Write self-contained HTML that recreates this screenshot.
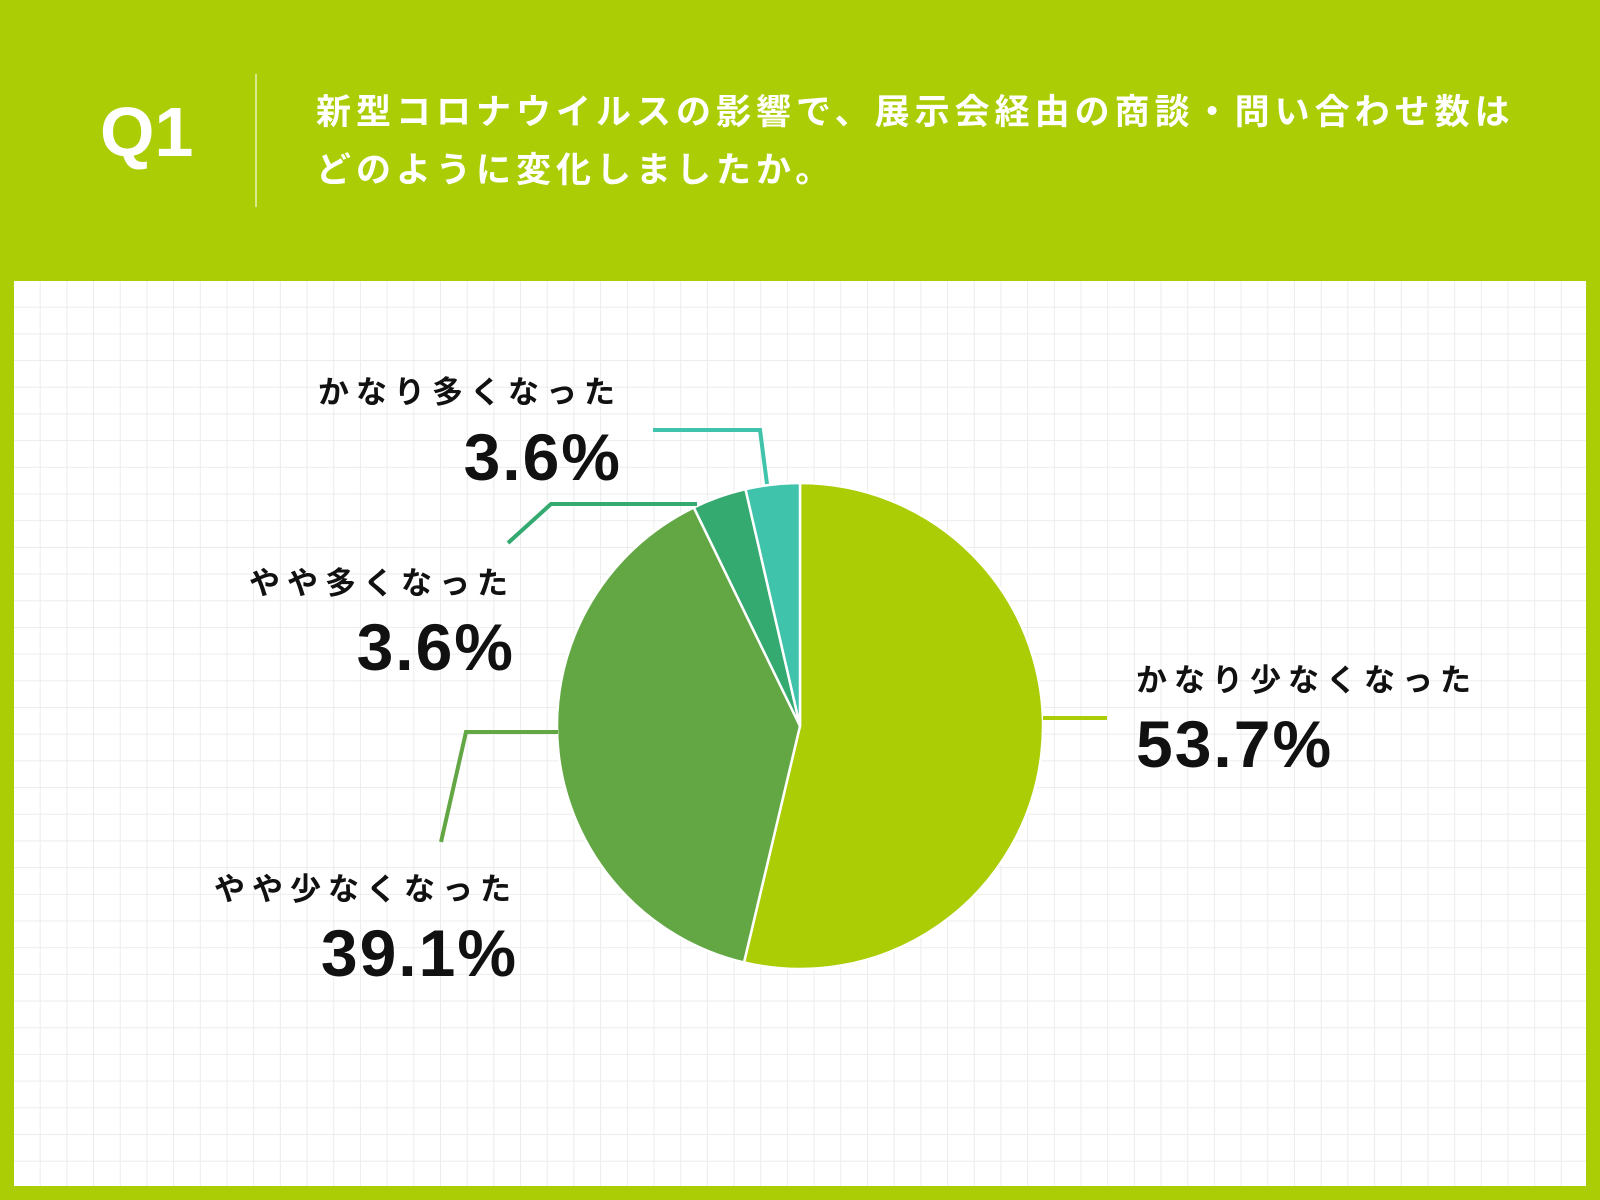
<!DOCTYPE html>
<html><head><meta charset="utf-8"><style>
html,body{margin:0;padding:0;}
body{width:1600px;height:1200px;background:#abcd06;position:relative;overflow:hidden;font-family:"Liberation Sans","Noto Sans CJK JP",sans-serif;}
#panel{position:absolute;left:14px;top:281px;width:1572px;height:905px;background:#fff;
background-image:linear-gradient(#ececec 1px,transparent 1px),linear-gradient(90deg,#ececec 1px,transparent 1px);
background-size:26.7px 26.7px;background-position:-1px -1px;}
.q{position:absolute;left:100px;top:92px;font-size:70px;font-weight:bold;color:#fff;}
.div{position:absolute;left:255px;top:74px;width:2px;height:133px;background:#d8e88a;}
.t{position:absolute;left:316px;font-size:35px;letter-spacing:5px;color:#fff;font-weight:bold;white-space:nowrap;}
</style></head><body>
<div class="q">Q1</div>
<div class="div"></div>
<div class="t" style="top:84px">新型コロナウイルスの影響で、展示会経由の商談・問い合わせ数は</div>
<div class="t" style="top:142px">どのように変化しましたか。</div>
<div id="panel"></div>
<svg id="chart" width="1600" height="1200" style="position:absolute;left:0;top:0"></svg>
<script>
const labels=["かなり少なくなった","やや少なくなった","やや多くなった","かなり多くなった"];
const values=[53.7,39.1,3.6,3.6];
const colors=["#abcd06","#63a744","#34a970","#3fc3aa"];
const cx=800,cy=726,r=243;
const svg=document.getElementById('chart');
const NS="http://www.w3.org/2000/svg";
const total=values.reduce((a,b)=>a+b,0);
function pt(a,rr){return [cx+rr*Math.sin(a),cy-rr*Math.cos(a)];}
let acc=0;
values.forEach((v,i)=>{
  const a0=acc/total*2*Math.PI;acc+=v;const a1=acc/total*2*Math.PI;
  const p0=pt(a0,r),p1=pt(a1,r);
  const p=document.createElementNS(NS,'path');
  p.setAttribute('d',`M${cx},${cy}L${p0[0]},${p0[1]}A${r},${r} 0 ${a1-a0>Math.PI?1:0} 1 ${p1[0]},${p1[1]}Z`);
  p.setAttribute('fill',colors[i]);p.setAttribute('stroke','#fff');p.setAttribute('stroke-width','2.5');
  
  
  svg.appendChild(p);
});
// leader lines
const leaders=[
 ["#abcd06","1043,718 1107,718"],
 ["#63a744","558,732 466,732 441,842"],
 ["#34a970","697,504 551,504 508,543"],
 ["#3fc3aa","767,484 760,430 653,430"]];
leaders.forEach((l,i)=>{
  const pl=document.createElementNS(NS,'polyline');
  pl.setAttribute('points',l[1]);pl.setAttribute('fill','none');pl.setAttribute('stroke',l[0]);pl.setAttribute('stroke-width','4');
  
  
  svg.appendChild(pl);
});
// label positions: [x, nameY, valueY, anchor]
const pos=[[1136,691,767,'start'],[518,900,976,'end'],[515,594,670,'end'],[622,403,480,'end']];
values.forEach((v,i)=>{
  const [x,y1,y2,an]=pos[i];
  const t1=document.createElementNS(NS,'text');
  t1.setAttribute('x',x);t1.setAttribute('y',y1);t1.setAttribute('text-anchor',an);
  t1.setAttribute('font-size','31');t1.setAttribute('font-weight','bold');t1.setAttribute('letter-spacing','7');
  t1.setAttribute('fill','#111');t1.setAttribute('font-family','"Liberation Sans","Noto Sans CJK JP",sans-serif');
  t1.textContent=labels[i];
  
  
  svg.appendChild(t1);
  const t2=document.createElementNS(NS,'text');
  t2.setAttribute('x',x);t2.setAttribute('y',y2);t2.setAttribute('text-anchor',an);
  t2.setAttribute('font-size','66');t2.setAttribute('font-weight','bold');t2.setAttribute('letter-spacing','2');
  t2.setAttribute('fill','#111');t2.setAttribute('font-family','"Liberation Sans",sans-serif');
  t2.textContent=v.toFixed(1)+'%';
  
  
  svg.appendChild(t2);
});
</script>
</body></html>
